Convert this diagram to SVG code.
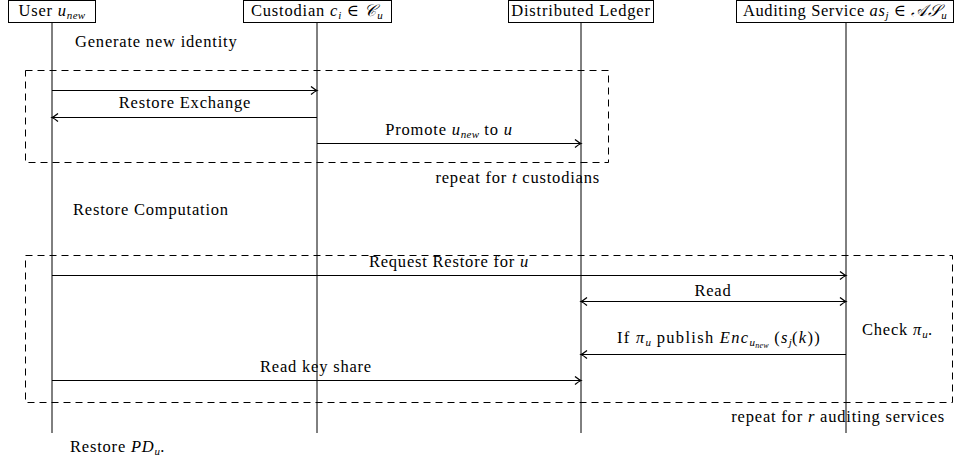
<svg xmlns="http://www.w3.org/2000/svg" width="955" height="463" viewBox="0 0 955 463">
<style>
text{font-family:"Liberation Serif","DejaVu Serif",serif;font-size:16.5px;letter-spacing:0.8px;fill:#000}
.i{font-style:italic}
.s{font-size:11px;letter-spacing:0.3px}
.ss{font-size:8px;letter-spacing:0.2px}
.box{fill:#fff;stroke:#000;stroke-width:1}
.life{stroke:#000;stroke-width:1}
.msg{stroke:#000;stroke-width:1.2;fill:none;marker-end:url(#ah)}
.dbl{marker-start:url(#ah)}
.loop{fill:none;stroke:#000;stroke-width:1;stroke-dasharray:7,5}
</style>
<defs>
<marker id="ah" viewBox="-7 -5 9 10" refX="0" refY="0" markerWidth="9" markerHeight="10" markerUnits="userSpaceOnUse" orient="auto-start-reverse">
<path d="M-6,-4 Q-2,-0.8 0,0 Q-2,0.8 -6,4" fill="none" stroke="#000" stroke-width="1.3"/>
</marker>
</defs>
<g id="lifelines">
<line class="life" x1="52" y1="22" x2="52" y2="433"/>
<line class="life" x1="317" y1="22" x2="317" y2="433"/>
<line class="life" x1="581" y1="22" x2="581" y2="433"/>
<line class="life" x1="846" y1="22" x2="846" y2="433"/>
</g>
<g id="user">
<rect class="box" x="8.5" y="0.5" width="87" height="22"/>
<text x="52" y="16" text-anchor="middle">User <tspan class="i">u</tspan><tspan class="i s" dy="3">new</tspan></text>
</g>
<g id="custodian">
<rect class="box" x="243.5" y="0.5" width="148" height="22"/>
<text x="317" y="16" text-anchor="middle">Custodian <tspan class="i">c</tspan><tspan class="i s" dy="3">i</tspan><tspan dy="-3"> ∈ </tspan><tspan class="i">𝒞</tspan><tspan class="i s" dy="3">u</tspan></text>
</g>
<g id="ledger">
<rect class="box" x="508.5" y="0.5" width="145" height="22"/>
<text x="581" y="16" text-anchor="middle">Distributed Ledger</text>
</g>
<g id="auditing">
<rect class="box" x="736.5" y="0.5" width="217" height="22"/>
<text x="845" y="16" text-anchor="middle" style="letter-spacing:0.6px">Auditing Service <tspan class="i">as</tspan><tspan class="i s" dy="3">j</tspan><tspan dy="-3"> ∈ </tspan><tspan class="i">𝒜𝒮</tspan><tspan class="i s" dy="3">u</tspan></text>
</g>
<g id="loops">
<rect class="loop" x="25.5" y="70.5" width="583" height="92"/>
<rect class="loop" x="25.5" y="255.5" width="927" height="147"/>
</g>
<g id="connectors">
<line class="msg" x1="52" y1="90.5" x2="317" y2="90.5"/>
<line class="msg" x1="317" y1="117.5" x2="52" y2="117.5"/>
<line class="msg" x1="317" y1="143.5" x2="581" y2="143.5"/>
<line class="msg" x1="52" y1="275.5" x2="846" y2="275.5"/>
<line class="msg dbl" x1="581" y1="301.5" x2="846" y2="301.5"/>
<line class="msg" x1="846" y1="354.5" x2="581" y2="354.5"/>
<line class="msg" x1="52" y1="380.5" x2="581" y2="380.5"/>
</g>
<g id="labels">
<text x="75" y="47">Generate new identity</text>
<text x="185" y="108" text-anchor="middle">Restore Exchange</text>
<text x="449" y="135" text-anchor="middle">Promote <tspan class="i">u</tspan><tspan class="i s" dy="3">new</tspan><tspan dy="-3"> to </tspan><tspan class="i">u</tspan></text>
<text x="600" y="183" text-anchor="end">repeat for <tspan class="i">t</tspan> custodians</text>
<text x="73" y="215">Restore Computation</text>
<text x="449" y="267" text-anchor="middle">Request Restore for <tspan class="i">u</tspan></text>
<text x="713" y="296" text-anchor="middle">Read</text>
<text x="719" y="343" text-anchor="middle" style="letter-spacing:1.3px">If <tspan class="i">π</tspan><tspan class="i s" dy="3">u</tspan><tspan dy="-3"> publish </tspan><tspan class="i">Enc</tspan><tspan class="i s" dy="3">u</tspan><tspan class="i ss" dy="2">new</tspan><tspan dy="-5">  (</tspan><tspan class="i">s</tspan><tspan class="i s" dy="3">j</tspan><tspan dy="-3">(</tspan><tspan class="i">k</tspan>))</text>
<text x="862" y="335">Check <tspan class="i">π</tspan><tspan class="i s" dy="3">u</tspan><tspan dy="-3">.</tspan></text>
<text x="316" y="372" text-anchor="middle">Read key share</text>
<text x="945" y="422" text-anchor="end">repeat for <tspan class="i">r</tspan> auditing services</text>
<text x="70" y="452">Restore <tspan class="i">PD</tspan><tspan class="i s" dy="3">u</tspan><tspan dy="-3">.</tspan></text>
</g>
</svg>
